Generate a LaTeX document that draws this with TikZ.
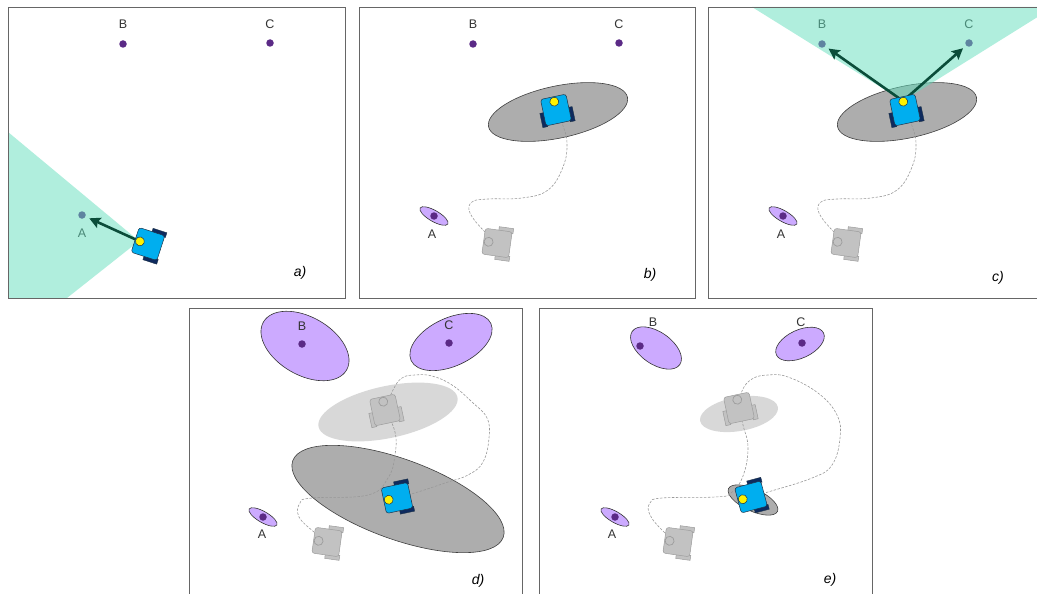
\documentclass[tikz,border=0pt]{standalone}
\usepackage{fontspec}
\setmainfont{Liberation Sans}
\usetikzlibrary{arrows.meta}

\definecolor{botblue}{HTML}{00AEEF}
\definecolor{wheelnavy}{HTML}{0E2A5E}
\definecolor{eyeyellow}{HTML}{FFF200}
\definecolor{botedge}{HTML}{1E3348}
\definecolor{ghostfill}{HTML}{C2C2C2}
\definecolor{ghostedge}{HTML}{9C9C9C}
\definecolor{lmpurple}{HTML}{5B2A86}
\definecolor{lmcov}{HTML}{CCAAFF}
\definecolor{fov}{RGB}{97,221,187}
\definecolor{bearing}{HTML}{0B4D3A}
\definecolor{posecov}{HTML}{ADADAD}
\definecolor{pastcov}{HTML}{D8D8D8}

\tikzset{
  frame/.style={draw=black!60,line width=0.8pt},
  dot/.style={circle,fill=lmpurple,inner sep=0pt,minimum size=7.5pt},
  lbl/.style={text=black!80,font=\fontsize{12.5}{14}\selectfont,inner sep=0pt},
  tag/.style={font=\fontsize{14}{16}\selectfont\itshape,inner sep=0pt},
  wedge/.style={fill=fov,fill opacity=0.5},
  vec/.style={draw=bearing,line width=2.6pt,-{Stealth[length=11pt,width=11pt,inset=2pt]},shorten >=4pt},
  lmell/.style={draw=black!80,fill=lmcov,line width=0.6pt},
  cov/.style={draw=black!75,fill=posecov,line width=0.6pt},
  fadedcov/.style={fill=pastcov},
  trail/.style={draw=black!40,dash pattern=on 2.5pt off 1.5pt,line width=0.6pt},
  robot/.pic={
    \draw[botedge,fill=wheelnavy,line width=0.4pt] (0,-16.5) rectangle (14.5,-11.5);
    \draw[botedge,fill=wheelnavy,line width=0.4pt] (0,11.5) rectangle (14.5,16.5);
    \draw[botedge,fill=botblue,line width=0.5pt,rounded corners=2.5pt] (-13.5,-13) rectangle (13.5,13);
    \draw[botedge,fill=eyeyellow,line width=0.5pt] (-8.5,0) circle [radius=4.5];
  },
  ghost/.pic={
    \draw[ghostedge,fill=ghostfill,line width=0.5pt] (0,-16.5) rectangle (14.5,-11.5);
    \draw[ghostedge,fill=ghostfill,line width=0.5pt] (0,11.5) rectangle (14.5,16.5);
    \draw[ghostedge,fill=ghostfill,line width=0.5pt,rounded corners=2.5pt] (-13.5,-13) rectangle (13.5,13);
    \draw[ghostedge,line width=0.7pt] (-8.5,0) circle [radius=4.5];
  }
}

\begin{document}
\begin{tikzpicture}[x=1pt,y=-1pt]
\useasboundingbox (0,0) rectangle (1037,594);

% a) first sighting of A
\begin{scope}[shift={(8,7)}]
  \begin{scope}
    \clip (0,0) rectangle (337,291);
    \node[dot] (aA) at (74,208) {};
    \node[dot] (aB) at (115,37) {};
    \node[dot] (aC) at (262,36) {};
    \node[lbl] (aAl) at (74,226) {A};
    \node[lbl] (aBl) at (115,17) {B};
    \node[lbl] (aCl) at (262,17) {C};
    \coordinate (ra) at (140,237);
    \coordinate (ra-eye) at (131,234);
    \fill[wedge] (ra-eye) -- (0,125) -- (0,291) -- (59,291) -- cycle;
    \draw[vec] (ra-eye) -- (aA);
    \pic[rotate=-18] at (ra) {robot};
  \end{scope}
  \node[tag] (ta) at (292,266) {a)};
  \draw[frame] (0,0) rectangle (337,291);
\end{scope}

% b) after driving, pose uncertainty grows
\begin{scope}[shift={(359,7)}]
  \draw[cov,rotate around={12:(199,105)}] (199,105) ellipse [x radius=71,y radius=26];
  \draw[lmell,rotate around={-30:(75,209)}] (75,209) ellipse [x radius=16,y radius=5.5];
  \node[dot] (bA) at (75,209) {};
  \node[dot] (bB) at (114,37) {};
  \node[dot] (bC) at (260,36) {};
  \node[lbl] (bAl) at (73,227) {A};
  \node[lbl] (bBl) at (114,17) {B};
  \node[lbl] (bCl) at (260,17) {C};
  \coordinate (bg) at (138,236);
  \coordinate (rb) at (197,103);
  \draw[trail] plot[smooth,tension=0.7] coordinates {(bg) (124,223) (111,206) (113,195) (129,192) (163,191) (189,183) (204,160) (208,136) (203,116) (rb)};
  \pic[rotate=-8] at (bg) {ghost};
  \pic[rotate=-78] at (rb) {robot};
  \node[tag] (tb) at (291,268) {b)};
  \draw[frame] (0,0) rectangle (336,291);
\end{scope}

% c) B and C seen from the uncertain pose
\begin{scope}[shift={(708,7)}]
  \begin{scope}
    \clip (0,0) rectangle (336,291);
    \draw[cov,rotate around={12:(199,105)}] (199,105) ellipse [x radius=71,y radius=26];
    \draw[lmell,rotate around={-30:(75,209)}] (75,209) ellipse [x radius=16,y radius=5.5];
    \node[dot] (cA) at (75,209) {};
    \node[dot] (cB) at (114,37) {};
    \node[dot] (cC) at (261,36) {};
    \node[lbl] (cAl) at (73,227) {A};
    \node[lbl] (cBl) at (114,17) {B};
    \node[lbl] (cCl) at (261,17) {C};
    \coordinate (cg) at (138,236);
    \coordinate (rc) at (197,103);
    \coordinate (rc-eye) at (195,94);
    \draw[trail] plot[smooth,tension=0.7] coordinates {(cg) (124,223) (111,206) (113,195) (129,192) (163,191) (189,183) (204,160) (208,136) (203,116) (rc)};
    \pic[rotate=-8] at (cg) {ghost};
    \fill[wedge] (rc-eye) -- (44,0) -- (336,0) -- (336,6) -- cycle;
    \draw[vec] (rc-eye) -- (cB);
    \draw[vec] (rc-eye) -- (cC);
    \pic[rotate=-78] at (rc) {robot};
  \end{scope}
  \node[tag] (tc) at (290,271) {c)};
  \draw[frame] (0,0) rectangle (336,291);
\end{scope}

% d) driving on, before closing the loop
\begin{scope}[shift={(189,308)}]
  \draw[lmell,rotate around={-30:(116,38)}] (116,38) ellipse [x radius=48,y radius=29];
  \draw[lmell,rotate around={25:(262,34)}] (262,34) ellipse [x radius=44,y radius=24];
  \draw[lmell,rotate around={-30:(74,209)}] (74,209) ellipse [x radius=16,y radius=5.5];
  \fill[fadedcov,rotate around={12:(199,104)}] (199,104) ellipse [x radius=71,y radius=26];
  \draw[cov,rotate around={-20:(209,191)}] (209,191) ellipse [x radius=112,y radius=40];
  \node[dot] (dA) at (74,209) {};
  \node[dot] (dB) at (113,36) {};
  \node[dot] (dC) at (260,35) {};
  \node[lbl] (dAl) at (73,226) {A};
  \node[lbl] (dBl) at (113,18) {B};
  \node[lbl] (dCl) at (260,17) {C};
  \coordinate (dg2) at (138,234);
  \coordinate (dg1) at (196,102);
  \coordinate (rd) at (208,190);
  \draw[trail] plot[smooth,tension=0.7] coordinates {(dg2) (125,224) (110,209) (111,195) (123,190) (179,187) (199,170) (206,147) (206,124) (dg1)};
  \draw[trail] plot[smooth,tension=0.7] coordinates {(dg1) (204,82) (213,70) (226,67) (243,68) (263,77) (283,94) (298,110) (300,130) (294,154) (279,167) (256,175) (229,184) (rd)};
  \pic[rotate=-8] at (dg2) {ghost};
  \pic[rotate=-78] at (dg1) {ghost};
  \pic[rotate=12] at (rd) {robot};
  \node[tag] (td) at (289,273) {d)};
  \draw[frame] (0,0) rectangle (333,291);
\end{scope}

% e) loop closed, everything shrinks
\begin{scope}[shift={(539,308)}]
  \draw[lmell,rotate around={-35:(117,40)}] (117,40) ellipse [x radius=29,y radius=16];
  \draw[lmell,rotate around={25:(261,36)}] (261,36) ellipse [x radius=26,y radius=14];
  \draw[lmell,rotate around={-30:(76,209)}] (76,209) ellipse [x radius=16,y radius=5.5];
  \fill[fadedcov,rotate around={10:(200,106)}] (200,106) ellipse [x radius=39.5,y radius=17];
  \draw[cov,rotate around={-25:(214,192)}] (214,192) ellipse [x radius=27,y radius=11];
  \node[dot] (eA) at (76,209) {};
  \node[dot] (eB) at (101,38) {};
  \node[dot] (eC) at (263,35) {};
  \node[lbl] (eAl) at (73,226) {A};
  \node[lbl] (eBl) at (114,14) {B};
  \node[lbl] (eCl) at (262,14) {C};
  \coordinate (eg2) at (139,234);
  \coordinate (eg1) at (200,100);
  \coordinate (re) at (212,189);
  \draw[trail] plot[smooth,tension=0.7] coordinates {(eg2) (125,224) (111,207) (111,195) (123,190) (176,189) (192,185) (204,168) (209,140) (204,117) (eg1)};
  \draw[trail] plot[smooth,tension=0.7] coordinates {(eg1) (203,83) (213,71) (229,67) (249,69) (279,85) (298,107) (301,130) (293,157) (273,170) (229,184) (re)};
  \pic[rotate=-8] at (eg2) {ghost};
  \pic[rotate=-78] at (eg1) {ghost};
  \pic[rotate=15] at (re) {robot};
  \node[tag] (te) at (291,272) {e)};
  \draw[frame] (0,0) rectangle (333,291);
\end{scope}
\end{tikzpicture}
\end{document}
